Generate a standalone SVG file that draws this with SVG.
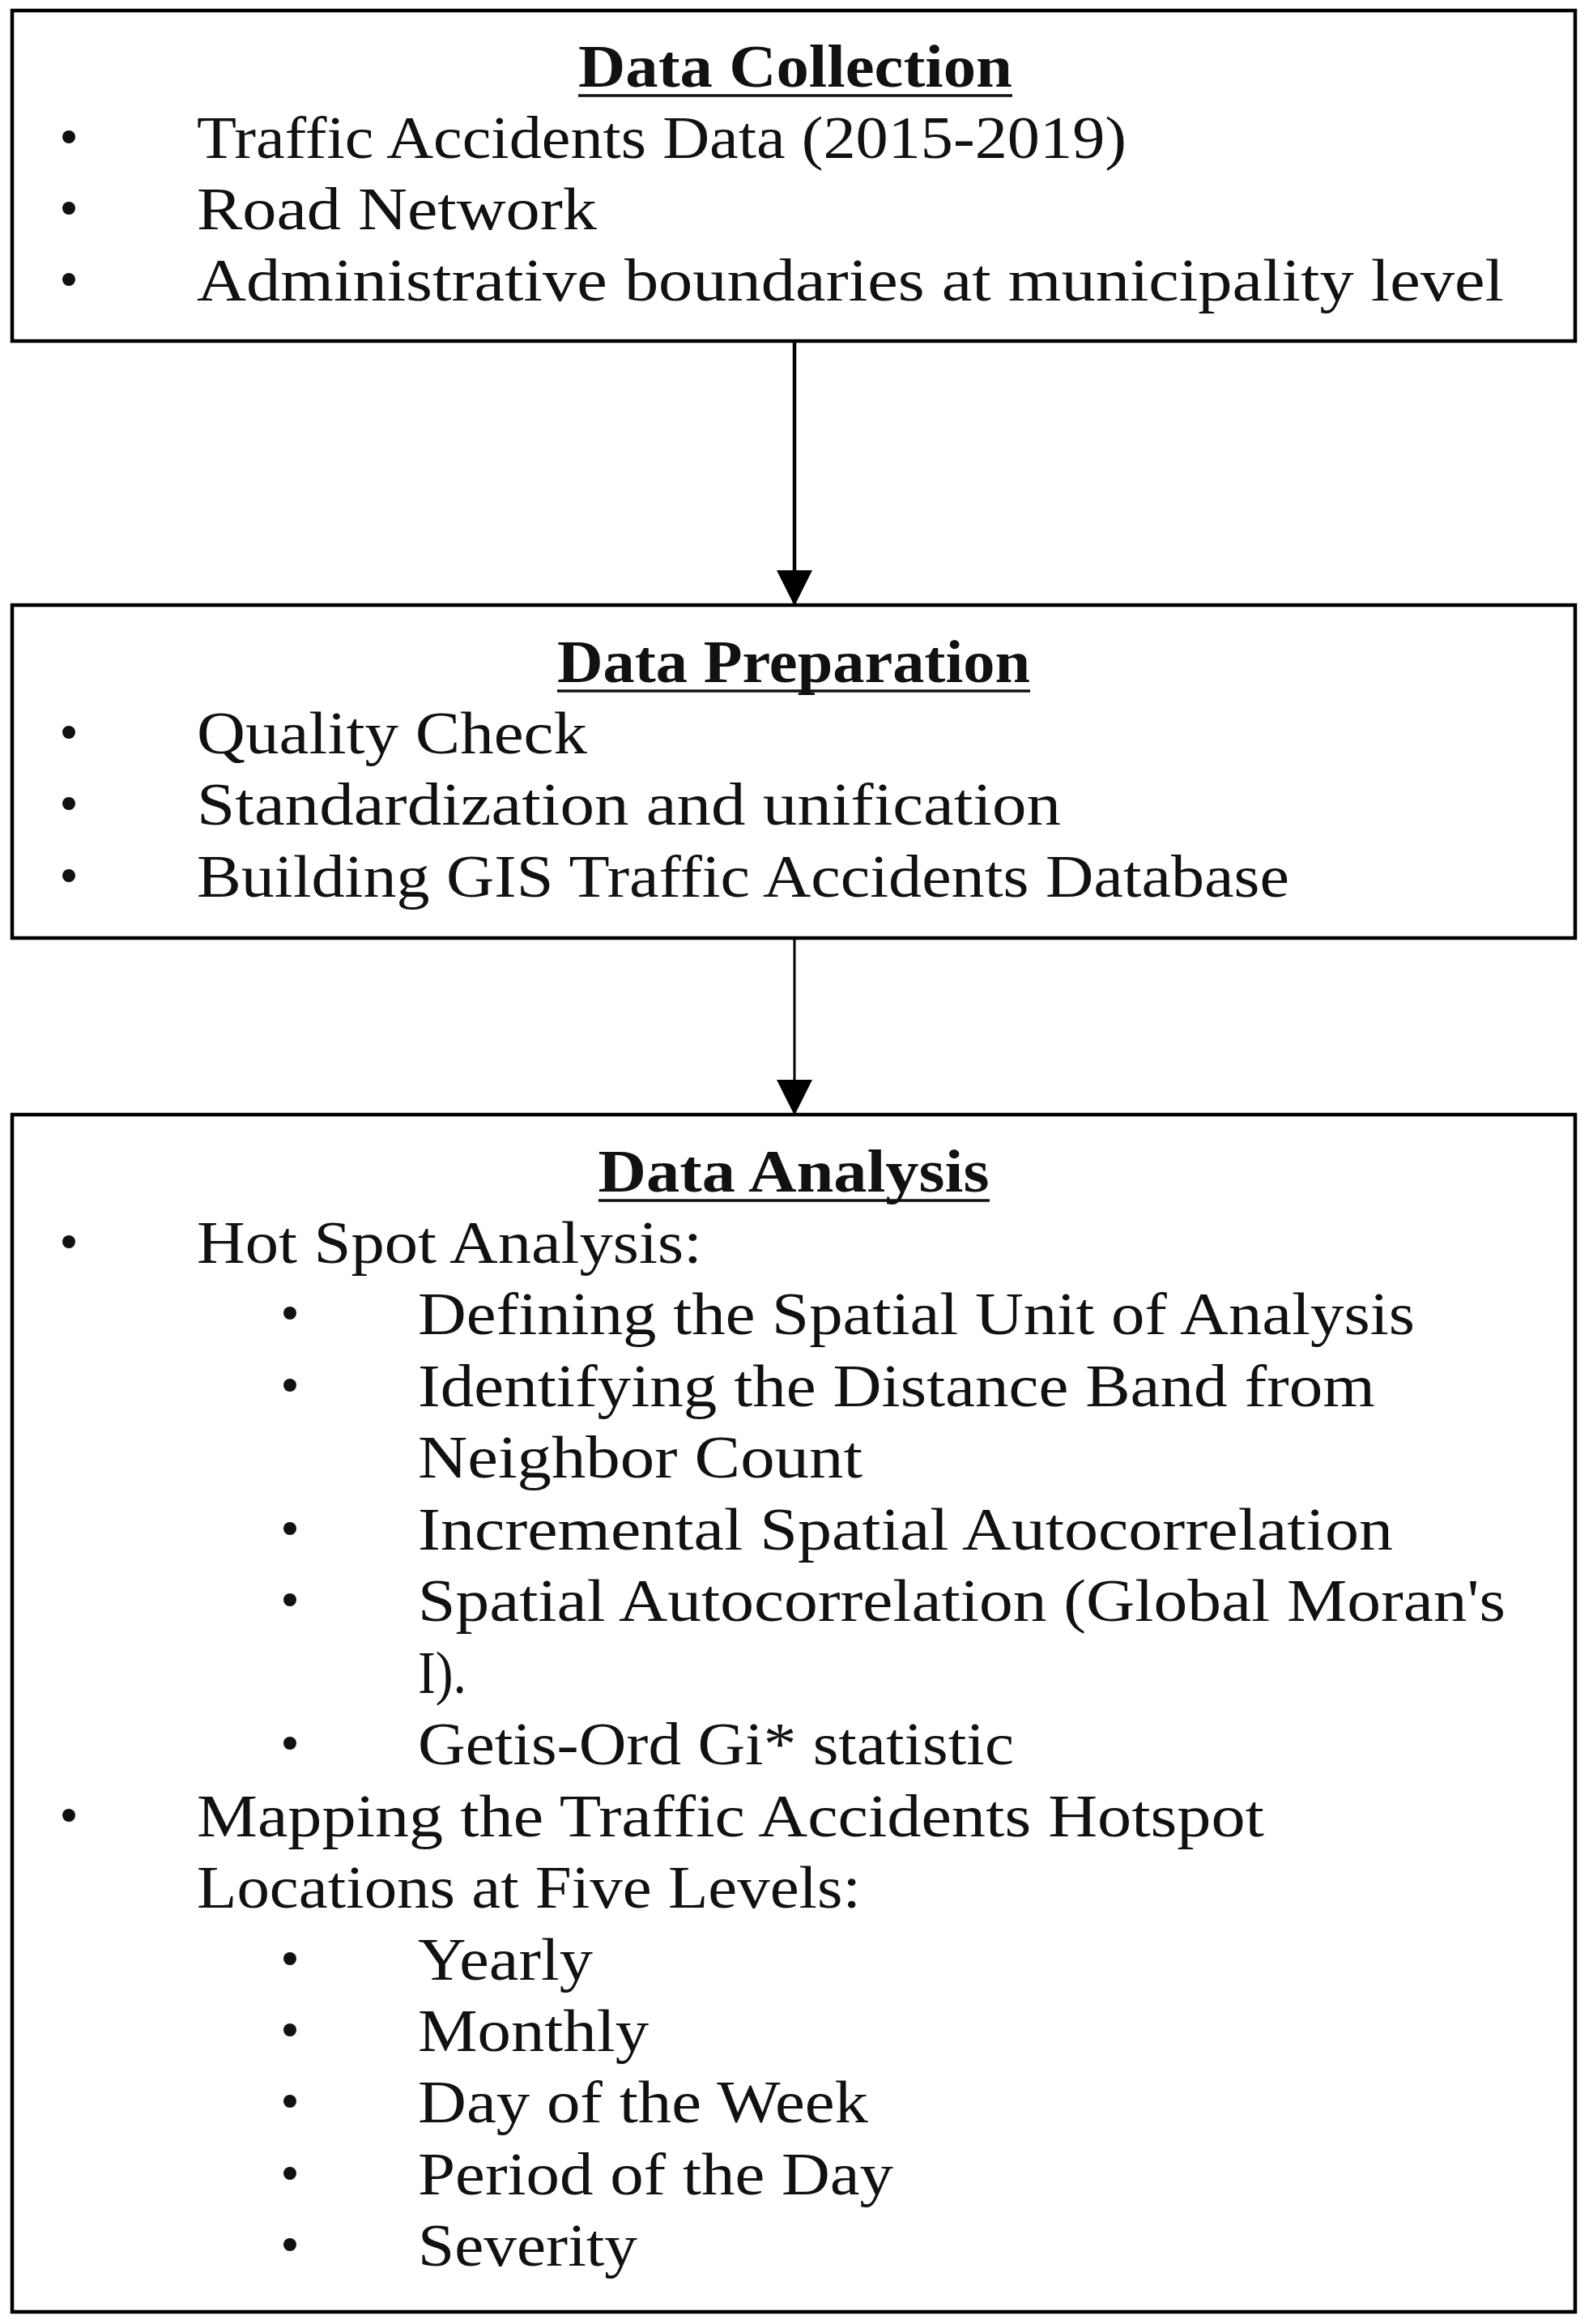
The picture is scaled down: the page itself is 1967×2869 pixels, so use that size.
<svg xmlns="http://www.w3.org/2000/svg" width="1967" height="2869" viewBox="0 0 1967 2869">
<style>
.box{fill:#fff;stroke:#000;stroke-width:4.5}
.t{font-family:"Liberation Serif","Times New Roman",serif;font-size:74px;fill:#111}
.h{font-family:"Liberation Serif","Times New Roman",serif;font-size:74px;font-weight:bold;fill:#111;text-anchor:middle}
.ul{stroke:#111;stroke-width:3.5}
.conn{stroke:#000;fill:none}
.dot{fill:#111}
</style>
<defs>
<marker id="ah" markerUnits="userSpaceOnUse" markerWidth="44" markerHeight="44" refX="43" refY="22" orient="auto" viewBox="0 0 44 44">
<path d="M0,0 L44,22 L0,44 z" fill="#000"/>
</marker>
<circle id="bul" r="8" class="dot"/>
</defs>
<rect width="1967" height="2869" fill="#fff"/>
<g id="connectors">
<line class="conn" x1="981" y1="421" x2="981" y2="747" stroke-width="4.5" marker-end="url(#ah)"/>
<line class="conn" x1="981" y1="1158" x2="981" y2="1376" stroke-width="3" marker-end="url(#ah)"/>
</g>
<g id="data-collection">
<rect class="box" x="15" y="13" width="1930" height="408"/>
<text class="h" x="982" y="107" textLength="536" lengthAdjust="spacingAndGlyphs">Data Collection</text>
<line class="ul" x1="714" y1="118" x2="1250" y2="118"/>
<use href="#bul" x="85" y="169"/>
<text class="t" x="243" y="195" textLength="1148" lengthAdjust="spacingAndGlyphs">Traffic Accidents Data (2015-2019)</text>
<use href="#bul" x="85" y="257"/>
<text class="t" x="243" y="283" textLength="494" lengthAdjust="spacingAndGlyphs">Road Network</text>
<use href="#bul" x="85" y="345"/>
<text class="t" x="243" y="371" textLength="1614" lengthAdjust="spacingAndGlyphs">Administrative boundaries at municipality level</text>
</g>
<g id="data-preparation">
<rect class="box" x="15" y="747" width="1930" height="411"/>
<text class="h" x="980" y="842" textLength="584" lengthAdjust="spacingAndGlyphs">Data Preparation</text>
<line class="ul" x1="688" y1="853" x2="1272" y2="853"/>
<use href="#bul" x="85" y="904"/>
<text class="t" x="243" y="930" textLength="482" lengthAdjust="spacingAndGlyphs">Quality Check</text>
<use href="#bul" x="85" y="992"/>
<text class="t" x="243" y="1018" textLength="1067" lengthAdjust="spacingAndGlyphs">Standardization and unification</text>
<use href="#bul" x="85" y="1081"/>
<text class="t" x="243" y="1107" textLength="1349" lengthAdjust="spacingAndGlyphs">Building GIS Traffic Accidents Database</text>
</g>
<g id="data-analysis">
<rect class="box" x="15" y="1376" width="1930" height="1478"/>
<text class="h" x="980" y="1471" textLength="483" lengthAdjust="spacingAndGlyphs">Data Analysis</text>
<line class="ul" x1="739" y1="1482" x2="1222" y2="1482"/>
<use href="#bul" x="85" y="1533"/>
<text class="t" x="243" y="1559" textLength="624" lengthAdjust="spacingAndGlyphs">Hot Spot Analysis:</text>
<use href="#bul" x="358" y="1621"/>
<text class="t" x="516" y="1647" textLength="1231" lengthAdjust="spacingAndGlyphs">Defining the Spatial Unit of Analysis</text>
<use href="#bul" x="358" y="1710"/>
<text class="t" x="516" y="1736" textLength="1182" lengthAdjust="spacingAndGlyphs">Identifying the Distance Band from</text>
<text class="t" x="516" y="1824" textLength="549" lengthAdjust="spacingAndGlyphs">Neighbor Count</text>
<use href="#bul" x="358" y="1887"/>
<text class="t" x="516" y="1913" textLength="1204" lengthAdjust="spacingAndGlyphs">Incremental Spatial Autocorrelation</text>
<use href="#bul" x="358" y="1975"/>
<text class="t" x="516" y="2001" textLength="1343" lengthAdjust="spacingAndGlyphs">Spatial Autocorrelation (Global Moran's</text>
<text class="t" x="516" y="2090" textLength="60" lengthAdjust="spacingAndGlyphs">I).</text>
<use href="#bul" x="358" y="2152"/>
<text class="t" x="516" y="2178" textLength="736" lengthAdjust="spacingAndGlyphs">Getis-Ord Gi* statistic</text>
<use href="#bul" x="85" y="2241"/>
<text class="t" x="243" y="2267" textLength="1318" lengthAdjust="spacingAndGlyphs">Mapping the Traffic Accidents Hotspot</text>
<text class="t" x="243" y="2355" textLength="820" lengthAdjust="spacingAndGlyphs">Locations at Five Levels:</text>
<use href="#bul" x="358" y="2418"/>
<text class="t" x="516" y="2444" textLength="216" lengthAdjust="spacingAndGlyphs">Yearly</text>
<use href="#bul" x="358" y="2506"/>
<text class="t" x="516" y="2532" textLength="285" lengthAdjust="spacingAndGlyphs">Monthly</text>
<use href="#bul" x="358" y="2594"/>
<text class="t" x="516" y="2620" textLength="556" lengthAdjust="spacingAndGlyphs">Day of the Week</text>
<use href="#bul" x="358" y="2683"/>
<text class="t" x="516" y="2709" textLength="587" lengthAdjust="spacingAndGlyphs">Period of the Day</text>
<use href="#bul" x="358" y="2771"/>
<text class="t" x="516" y="2797" textLength="271" lengthAdjust="spacingAndGlyphs">Severity</text>
</g>
</svg>
